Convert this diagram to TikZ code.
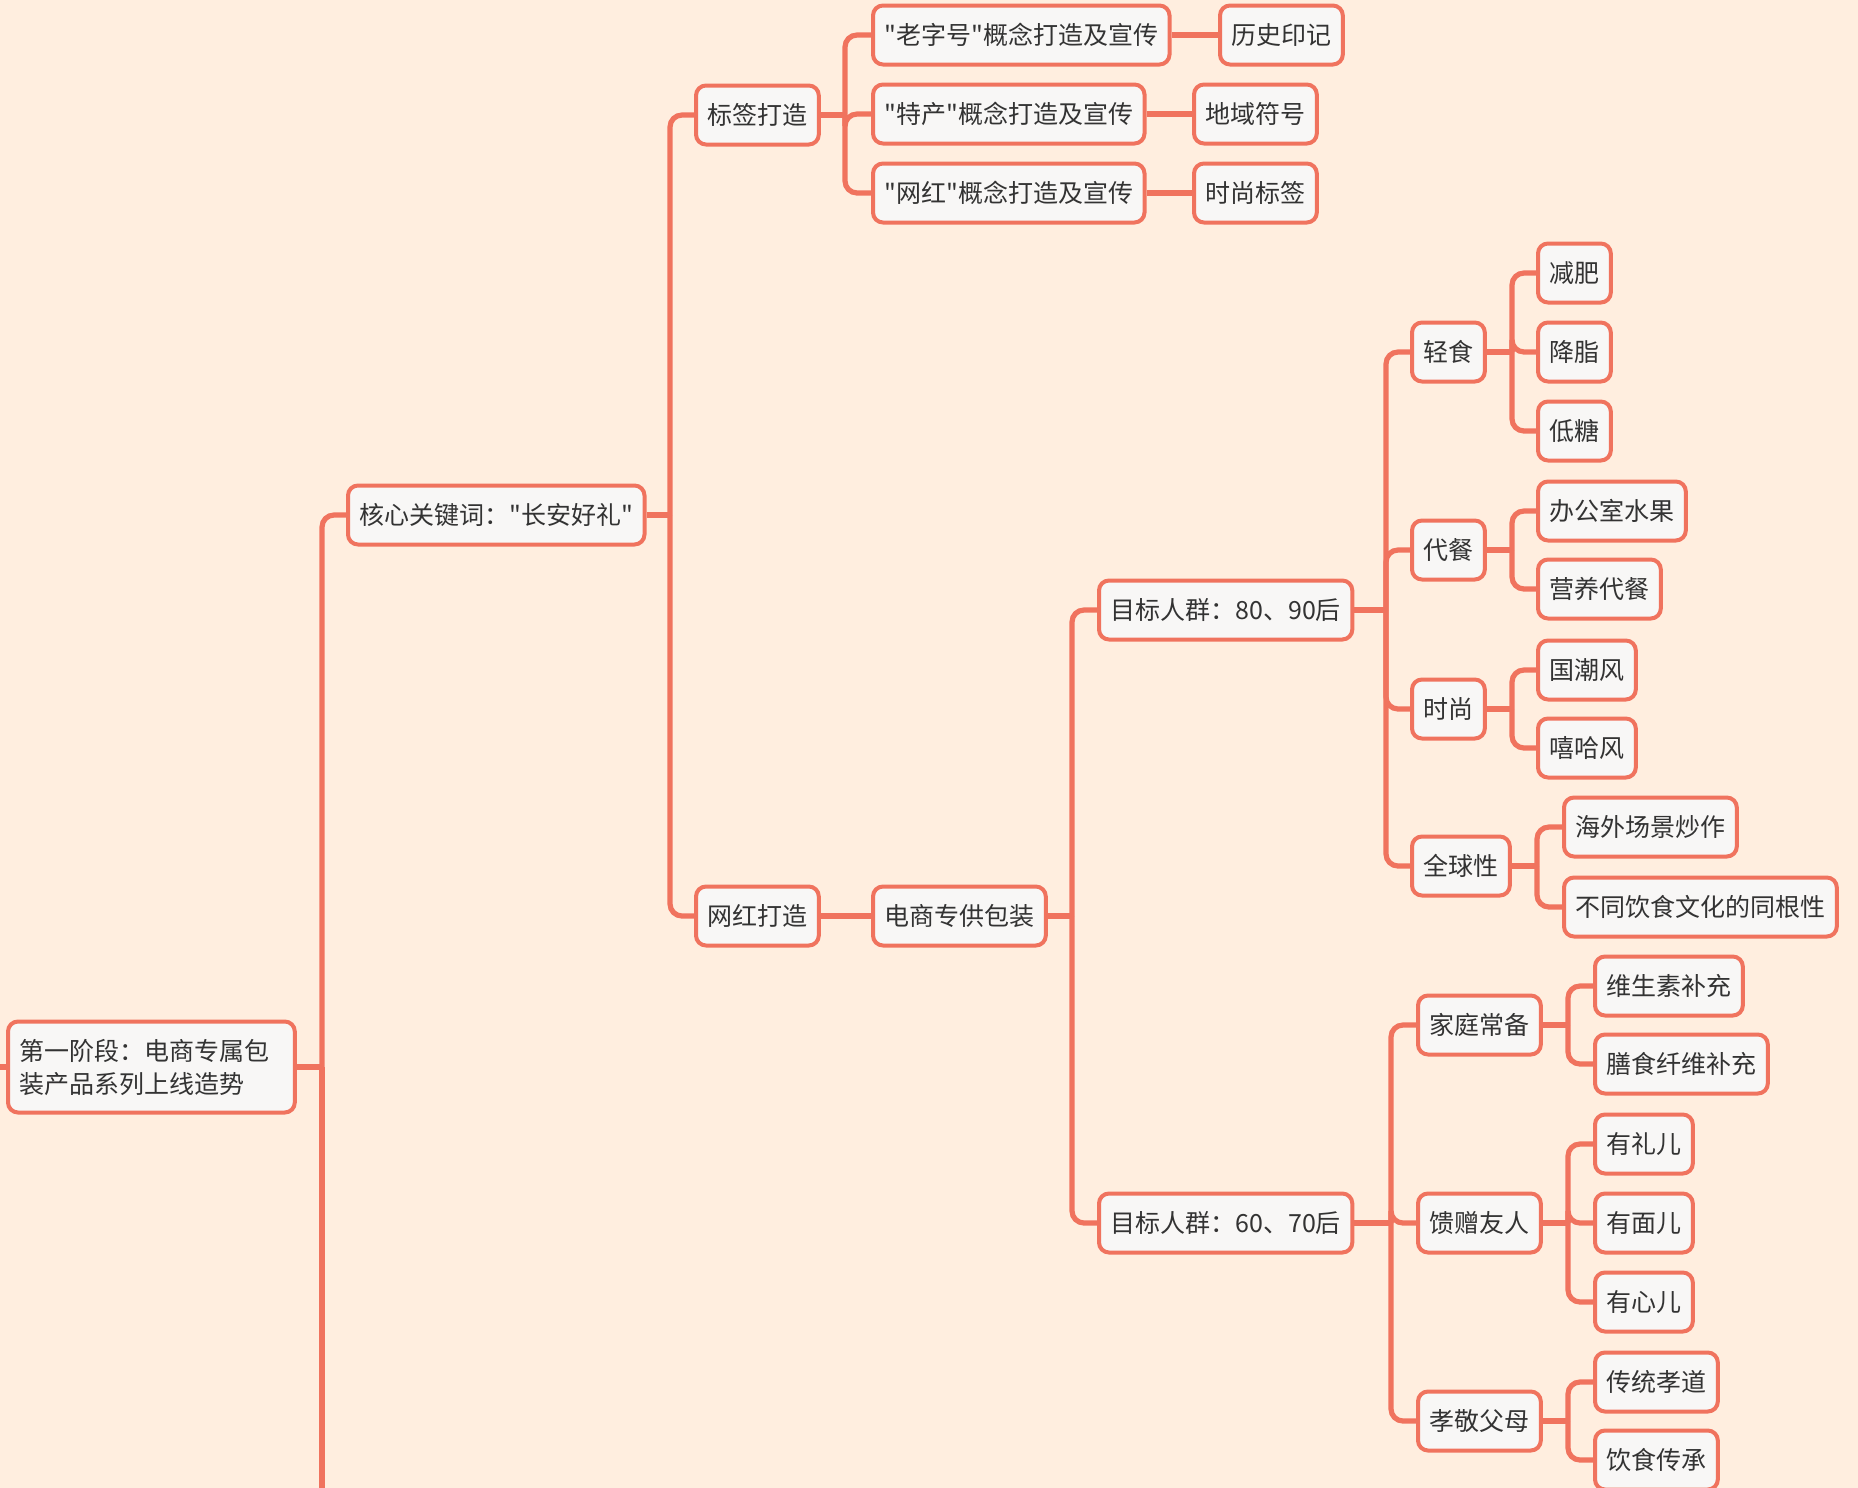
\documentclass[tikz,border=0pt]{standalone}
\usepackage{fontspec}
\setmainfont{Noto Sans CJK SC}[Ligatures=TeXOff]
\usepackage{xcolor}
\definecolor{mapRed}{HTML}{F0735E}
\definecolor{peach}{HTML}{FFEEDF}
\definecolor{paleGray}{HTML}{F8F7F6}
\definecolor{ink}{HTML}{333333}

\tikzset{
  topic/.style={draw=mapRed, fill=paleGray, line width=2pt, rounded corners=5pt,
    minimum height=29.5pt, inner xsep=5.7pt, inner ysep=0pt, anchor=west,
    text=ink, font=\fontsize{12.5}{16.5}\selectfont},
  link/.style={draw=mapRed, line width=2.6pt, rounded corners=6pt},
}

\begin{document}
\begin{tikzpicture}[x=0.5pt, y=-0.5pt]
\fill[peach] (0,0) rectangle (1858,1488);
\useasboundingbox (0,0) rectangle (1858,1488);

% root and first level
\node[topic, text width=132pt, align=left, minimum height=45.5pt] (root) at (6,1067)
  {第一阶段：电商专属包\\装产品系列上线造势};
\node[topic] (kw) at (346,515) {核心关键词："长安好礼"};
\node[topic] (tag) at (694,115) {标签打造};
\node[topic] (wh) at (694,916) {网红打造};

% tags
\node[topic] (lzh) at (871,35) {"老字号"概念打造及宣传};
\node[topic] (lsyj) at (1218,35) {历史印记};
\node[topic] (tc) at (871,114) {"特产"概念打造及宣传};
\node[topic] (dyfh) at (1192,114) {地域符号};
\node[topic] (whn) at (871,193) {"网红"概念打造及宣传};
\node[topic] (sssq) at (1192,193) {时尚标签};

% e-commerce package
\node[topic] (dspk) at (871,916) {电商专供包装};
\node[topic] (t8090) at (1097,610) {目标人群：80、90后};
\node[topic] (t6070) at (1097,1223) {目标人群：60、70后};

\node[topic] (qs) at (1410,352) {轻食};
\node[topic] (cc) at (1410,550) {代餐};
\node[topic] (ss) at (1410,709) {时尚};
\node[topic] (qqx) at (1410,866) {全球性};
\node[topic] (jf) at (1536,273) {减肥};
\node[topic] (jz) at (1536,352) {降脂};
\node[topic] (dt) at (1536,431) {低糖};
\node[topic] (bgs) at (1536,511) {办公室水果};
\node[topic] (yycc) at (1536,589) {营养代餐};
\node[topic] (gcf) at (1536,670) {国潮风};
\node[topic] (xhf) at (1536,748) {嘻哈风};
\node[topic] (hwcj) at (1562,827) {海外场景炒作};
\node[topic] (btys) at (1562,907) {不同饮食文化的同根性};

\node[topic] (jtcb) at (1416,1025) {家庭常备};
\node[topic] (kzyr) at (1416,1223) {馈赠友人};
\node[topic] (xjfm) at (1416,1421) {孝敬父母};
\node[topic] (wss) at (1593,986) {维生素补充};
\node[topic] (ssxw) at (1593,1064) {膳食纤维补充};
\node[topic] (ylr) at (1593,1144) {有礼儿};
\node[topic] (ymr) at (1593,1223) {有面儿};
\node[topic] (yxr) at (1593,1302) {有心儿};
\node[topic] (ctxd) at (1593,1382) {传统孝道};
\node[topic] (ysc) at (1593,1460) {饮食传承};

% connectors
\coordinate (rootIn) at (0,1067);
\coordinate (trunkEnd) at (322,1488);
\draw[link] (rootIn) -- (root.west);
\draw[link] (root.east) -- (322,0 |- root.east);
\draw[link] (322,0 |- root.east) |- (kw.west);
\draw[link] (322,0 |- root.east) -- (trunkEnd);

\draw[link] (kw.east) -- (670,0 |- kw.east);
\foreach \c in {tag,wh} \draw[link] (670,0 |- kw.east) |- (\c.west);

\draw[link] (tag.east) -- (845,0 |- tag.east);
\foreach \c in {lzh,tc,whn} \draw[link] (845,0 |- tag.east) |- (\c.west);
\draw[link] (lzh.east) -- (lsyj.west);
\draw[link] (tc.east) -- (dyfh.west);
\draw[link] (whn.east) -- (sssq.west);

\draw[link] (wh.east) -- (dspk.west);
\draw[link] (dspk.east) -- (1072,0 |- dspk.east);
\foreach \c in {t8090,t6070} \draw[link] (1072,0 |- dspk.east) |- (\c.west);

\draw[link] (t8090.east) -- (1386,0 |- t8090.east);
\foreach \c in {qs,cc,ss,qqx} \draw[link] (1386,0 |- t8090.east) |- (\c.west);
\draw[link] (qs.east) -- (1512,0 |- qs.east);
\foreach \c in {jf,jz,dt} \draw[link] (1512,0 |- qs.east) |- (\c.west);
\draw[link] (cc.east) -- (1512,0 |- cc.east);
\foreach \c in {bgs,yycc} \draw[link] (1512,0 |- cc.east) |- (\c.west);
\draw[link] (ss.east) -- (1512,0 |- ss.east);
\foreach \c in {gcf,xhf} \draw[link] (1512,0 |- ss.east) |- (\c.west);
\draw[link] (qqx.east) -- (1537,0 |- qqx.east);
\foreach \c in {hwcj,btys} \draw[link] (1537,0 |- qqx.east) |- (\c.west);

\draw[link] (t6070.east) -- (1391,0 |- t6070.east);
\foreach \c in {jtcb,kzyr,xjfm} \draw[link] (1391,0 |- t6070.east) |- (\c.west);
\draw[link] (jtcb.east) -- (1568,0 |- jtcb.east);
\foreach \c in {wss,ssxw} \draw[link] (1568,0 |- jtcb.east) |- (\c.west);
\draw[link] (kzyr.east) -- (1568,0 |- kzyr.east);
\foreach \c in {ylr,ymr,yxr} \draw[link] (1568,0 |- kzyr.east) |- (\c.west);
\draw[link] (xjfm.east) -- (1568,0 |- xjfm.east);
\foreach \c in {ctxd,ysc} \draw[link] (1568,0 |- xjfm.east) |- (\c.west);
\end{tikzpicture}
\end{document}
